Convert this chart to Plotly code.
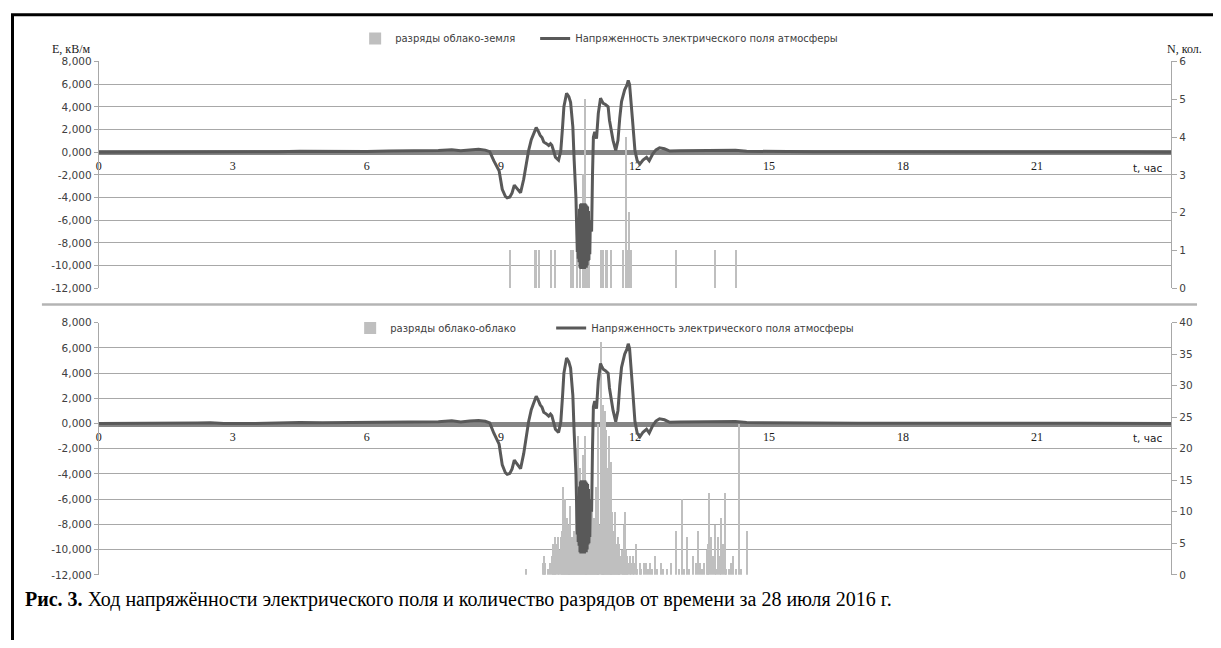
import plotly.graph_objects as go

# The page body keeps the browser's default 8px margin on every side, so the
# figure is sized to make the page 1221x648; positions below are window pixels.
OFFSET = 8
W, H = 1221 - 2 * OFFSET, 648 - 2 * OFFSET
# vertical calibration of requested -> photographed window positions
Y_SCALE, Y_SHIFT = 0.979, 5.8

# ---------------- data ----------------
HOUR_TICKS = [0, 3, 6, 9, 12, 15, 18, 21]
HOUR_LABELS = ["0", "3", "6", "9", "12", "15", "18", "21"]
E_TICKS = [-12, -10, -8, -6, -4, -2, 0, 2, 4, 6, 8]
E_LABELS = ["-12,000", "-10,000", "-8,000", "-6,000", "-4,000", "-2,000",
            "0,000", "2,000", "4,000", "6,000", "8,000"]
CG_TICKS = [0, 1, 2, 3, 4, 5, 6]
CC_TICKS = [0, 5, 10, 15, 20, 25, 30, 35, 40]

# electric field strength, kV/m, vs time in hours
E_TIME = [0.0, 1.0, 2.0, 2.2, 2.5, 2.8, 3.5, 4.0, 4.5, 5.0,
          5.5, 6.0, 6.5, 7.0, 7.3, 7.6, 7.9, 8.1, 8.3, 8.5,
          8.65, 8.75, 8.84, 8.96, 9.03, 9.10, 9.14, 9.20, 9.25, 9.30,
          9.34, 9.38, 9.44, 9.51, 9.57, 9.62, 9.68, 9.74, 9.79, 9.83,
          9.88, 9.92, 9.96, 10.02, 10.07, 10.11, 10.14, 10.18, 10.22, 10.29,
          10.34, 10.38, 10.41, 10.47, 10.52, 10.56, 10.61, 10.64, 10.68, 10.70,
          10.71, 10.72, 10.73, 10.74, 10.75, 10.76, 10.77, 10.78, 10.79, 10.80,
          10.81, 10.82, 10.83, 10.84, 10.85, 10.86, 10.87, 10.88, 10.89, 10.90,
          10.91, 10.92, 10.93, 10.94, 10.95, 10.96, 10.97, 10.98, 10.99, 11.00,
          11.03, 11.05, 11.07, 11.10, 11.14,
          11.18, 11.23, 11.26, 11.29, 11.34, 11.40, 11.43, 11.47, 11.51, 11.57,
          11.62, 11.66, 11.70, 11.77, 11.82, 11.85, 11.88, 11.94, 12.00, 12.05,
          12.11, 12.18, 12.22, 12.26, 12.32, 12.40, 12.47, 12.55, 12.66, 12.78,
          13.0, 13.5, 14.0, 14.25, 14.5, 15.0, 16.0, 17.0, 18.0, 19.0,
          20.0, 21.0, 22.0, 23.0, 24.0]
E_FIELD = [0.00, 0.00, 0.00, 0.04, 0.06, 0.00, 0.00, 0.04, 0.08, 0.06,
           0.08, 0.05, 0.10, 0.10, 0.12, 0.15, 0.22, 0.12, 0.20, 0.25,
           0.18, 0.05, -0.75, -1.64, -3.28, -3.90, -4.03, -3.95, -3.60, -2.90,
           -3.10, -3.28, -3.58, -2.39, -1.00, 0.14, 1.10, 1.78, 2.17, 1.90,
           1.48, 1.30, 0.89, 0.75, 0.59, 0.75, 0.62, 0.10, -0.45, -0.70,
           0.10, 2.20, 4.00, 5.20, 4.90, 4.40, 2.23, -0.75, -4.03, -7.30,
           -8.80, -5.80, -9.40, -6.00, -9.70, -5.00, -10.20, -4.60, -10.30, -4.50,
           -10.20, -4.60, -10.30, -4.50, -10.00, -4.60, -10.30, -4.50, -10.10, -4.60,
           -10.20, -4.70, -10.00, -4.80, -9.60, -5.20, -9.50, -6.00, -9.00, -6.50,
           -7.00, -2.00, 1.33, 1.78, 1.19,
           3.42, 4.76, 4.50, 4.31, 4.20, 4.00, 2.82, 1.90, 1.04, 0.15,
           1.04, 3.00, 4.46, 5.50, 5.90, 6.33, 5.96, 3.12, 0.15, -0.75,
           -1.05, -0.69, -0.60, -0.45, -0.75, -0.15, 0.20, 0.38, 0.30, 0.10,
           0.12, 0.16, 0.18, 0.16, 0.08, 0.05, 0.04, 0.03, 0.04, 0.03,
           0.02, 0.02, 0.02, 0.01, 0.00]

# cloud-to-ground discharges
CG_TIME = [9.20, 9.76, 9.79, 9.85, 10.12, 10.22, 10.56, 10.62, 10.71, 10.76,
           10.83, 10.89, 10.93, 10.96, 11.23, 11.29, 11.35, 11.38, 11.46, 11.74,
           11.80, 11.85, 11.87, 11.92, 12.92, 13.80, 14.26]
CG_COUNT = [1, 1, 1, 1, 1, 1, 1, 1, 1, 1,
            3, 5, 1, 1, 1, 1, 1, 1, 1, 1,
            4, 1, 2, 1, 1, 1, 1]

# cloud-to-cloud discharges
CC_TIME = [9.55, 9.93, 9.96, 9.99, 10.05, 10.09, 10.13, 10.16, 10.19, 10.21,
           10.24, 10.27, 10.30, 10.33, 10.36, 10.39, 10.41, 10.43, 10.45, 10.47,
           10.49, 10.51, 10.53, 10.55, 10.57, 10.59, 10.61, 10.63, 10.65, 10.68,
           10.70, 10.73, 10.75, 10.77, 10.79, 10.81, 10.83, 10.85, 10.87, 10.89,
           10.91, 10.93, 10.95, 10.97, 10.99, 11.01, 11.03, 11.05, 11.08, 11.10,
           11.12, 11.14, 11.16, 11.18, 11.20, 11.23, 11.25, 11.27, 11.29, 11.31,
           11.33, 11.35, 11.37, 11.39, 11.41, 11.43, 11.45, 11.47, 11.49, 11.51,
           11.53, 11.55, 11.57, 11.59, 11.61, 11.63, 11.65, 11.67, 11.70, 11.72,
           11.75, 11.77, 11.79, 11.82, 11.85, 11.88, 11.91, 11.95, 11.98, 12.02,
           12.05, 12.10, 12.14, 12.20, 12.25, 12.28, 12.33, 12.37, 12.45, 12.50,
           12.58, 12.62, 12.72, 12.80, 12.91, 12.98, 13.06, 13.10, 13.16, 13.20,
           13.30, 13.36, 13.41, 13.45, 13.50, 13.55, 13.60, 13.63, 13.66, 13.70,
           13.74, 13.79, 13.82, 13.85, 13.89, 13.93, 13.96, 14.01, 14.04, 14.10,
           14.15, 14.20, 14.26, 14.33, 14.38, 14.50]
CC_COUNT = [1, 2, 3, 2, 1, 2, 3, 5, 5, 6,
            5, 6, 4, 6, 7, 14, 6, 12, 5, 9,
            6, 8, 5, 11, 5, 6, 5, 7, 5, 20,
            6, 22, 5, 17, 6, 8, 19, 6, 22, 5,
            11, 6, 9, 5, 7, 5, 14, 6, 9, 5,
            14, 6, 16, 24, 8, 37, 20, 14, 27, 8,
            26, 23, 17, 14, 22, 15, 7, 18, 10, 7,
            5, 10, 5, 4, 6, 3, 5, 3, 4, 3,
            8, 10, 4, 3, 2, 3, 2, 3, 2, 5,
            1, 2, 1, 2, 2, 1, 2, 1, 3, 1,
            2, 1, 1, 2, 7, 1, 12, 1, 6, 1,
            3, 2, 7, 2, 1, 2, 4, 5, 13, 6,
            3, 8, 1, 6, 3, 9, 5, 13, 1, 1,
            2, 3, 1, 24, 1, 7]

NAME_CG = "разряды облако-земля"
NAME_CC = "разряды облако-облако"
NAME_E = "Напряженность электрического поля атмосферы"

# ---------------- styling ----------------
SANS = "DejaVu Sans"
SERIF = "Liberation Serif"
TXT = "#404040"
GRID = "#a8a8a8"
BAR_C = "#bfbfbf"
LINE_C = "#595959"


def px(x):
    return (x - OFFSET) / W


def py(y):
    ys = (y - Y_SHIFT) / Y_SCALE
    return 1 - (ys - OFFSET) / H


X_DOM = [px(96), px(1171)]
TOP_DOM = [py(287.3), py(61)]
BOT_DOM = [py(573.3), py(321.7)]


def zero_pos(dom):
    return dom[0] + (0 - E_TICKS[0]) / (E_TICKS[-1] - E_TICKS[0]) * (dom[1] - dom[0])


fig = go.Figure()

fig.add_trace(go.Bar(x=CG_TIME, y=CG_COUNT, name=NAME_CG, width=0.03,
                     marker=dict(color=BAR_C, line=dict(width=0)),
                     legendwidth=135, xaxis="x", yaxis="y", legend="legend"))
fig.add_trace(go.Scatter(x=E_TIME, y=E_FIELD, name=NAME_E, mode="lines",
                         line=dict(color=LINE_C, width=3), legendwidth=280,
                         xaxis="x", yaxis="y2", legend="legend"))
fig.add_trace(go.Bar(x=CC_TIME, y=CC_COUNT, name=NAME_CC, width=0.024,
                     marker=dict(color=BAR_C, line=dict(width=0)),
                     legendwidth=156, xaxis="x2", yaxis="y3", legend="legend2"))
fig.add_trace(go.Scatter(x=E_TIME, y=E_FIELD, name=NAME_E, mode="lines",
                         line=dict(color=LINE_C, width=3), legendwidth=280,
                         xaxis="x2", yaxis="y4", legend="legend2"))


def xaxis_cfg(dom):
    return dict(domain=X_DOM, range=[0, 24], anchor="free", position=zero_pos(dom),
                tickmode="array", tickvals=HOUR_TICKS, ticktext=HOUR_LABELS,
                showgrid=False, zeroline=False, showline=True, linecolor="#858585",
                linewidth=5, ticks="", tickfont=dict(family=SERIF, size=12, color="#1a1a1a"),
                layer="below traces", fixedrange=True)


def n_axis_cfg(dom, ticks, xa):
    return dict(domain=dom, range=[ticks[0], ticks[-1]], side="right", anchor=xa,
                tickmode="array", tickvals=ticks, ticktext=[str(t) for t in ticks],
                showgrid=False, zeroline=False, showline=True, linecolor=GRID, linewidth=1,
                ticks="outside", ticklen=5, tickcolor=GRID,
                tickfont=dict(family=SANS, size=10.5, color=TXT))


def e_axis_cfg(over, xa):
    return dict(overlaying=over, side="left", anchor=xa, range=[E_TICKS[0], E_TICKS[-1]],
                tickmode="array", tickvals=E_TICKS, ticktext=E_LABELS,
                showgrid=True, gridcolor=GRID, gridwidth=1, zeroline=False,
                showline=True, linecolor=GRID, linewidth=1,
                ticks="outside", ticklen=4, tickcolor=GRID,
                tickfont=dict(family=SANS, size=10.5, color=TXT))


annotations = [
    dict(text="E, кВ/м", x=px(47), y=py(49), xanchor="left", yanchor="middle",
         font=dict(family=SERIF, size=12, color="#202020")),
    dict(text="N, кол.", x=px(1165), y=py(49), xanchor="left", yanchor="middle",
         font=dict(family=SERIF, size=12, color="#202020")),
    dict(text="t, час", x=px(1164), y=py(167), xanchor="right", yanchor="middle",
         font=dict(family=SANS, size=10.5, color="#202020")),
    dict(text="t, час", x=px(1164), y=py(437), xanchor="right", yanchor="middle",
         font=dict(family=SANS, size=10.5, color="#202020")),
    dict(text="<b>Рис. 3.</b> Ход напряжённости электрического поля и количество "
              "разрядов от времени за 28 июля 2016 г.",
         x=px(20), y=py(598), xanchor="left", yanchor="middle",
         font=dict(family=SERIF, size=20, color="#000000")),
]
for a in annotations:
    a.update(xref="paper", yref="paper", showarrow=False)

shapes = [
    # separator between the two charts
    dict(type="line", xref="paper", yref="paper", x0=px(39), x1=px(1197),
         y0=py(303.5), y1=py(303.5), line=dict(color="#b4b4b4", width=2.5)),
    # outer frame of the figure
    dict(type="rect", xref="paper", yref="paper", x0=px(9.5), x1=px(1260),
         y0=py(700), y1=py(14.5), line=dict(color="#000000", width=3)),
]

legend_common = dict(orientation="h", xanchor="left", yanchor="middle",
                     font=dict(family=SANS, size=10, color=TXT),
                     bgcolor="rgba(0,0,0,0)", traceorder="normal")

fig.update_layout(
    width=W, height=H, autosize=False,
    margin=dict(l=0, r=0, t=0, b=0),
    paper_bgcolor="white", plot_bgcolor="rgba(0,0,0,0)",
    showlegend=True,
    bargap=0,
    xaxis=xaxis_cfg(TOP_DOM), xaxis2=xaxis_cfg(BOT_DOM),
    yaxis=n_axis_cfg(TOP_DOM, CG_TICKS, "x"), yaxis2=e_axis_cfg("y", "x"),
    yaxis3=n_axis_cfg(BOT_DOM, CC_TICKS, "x2"), yaxis4=e_axis_cfg("y3", "x2"),
    legend=dict(x=px(353), y=py(38), **legend_common),
    legend2=dict(x=px(348), y=py(327), **legend_common),
    annotations=annotations,
    shapes=shapes,
)

fig.write_html("out.html")
